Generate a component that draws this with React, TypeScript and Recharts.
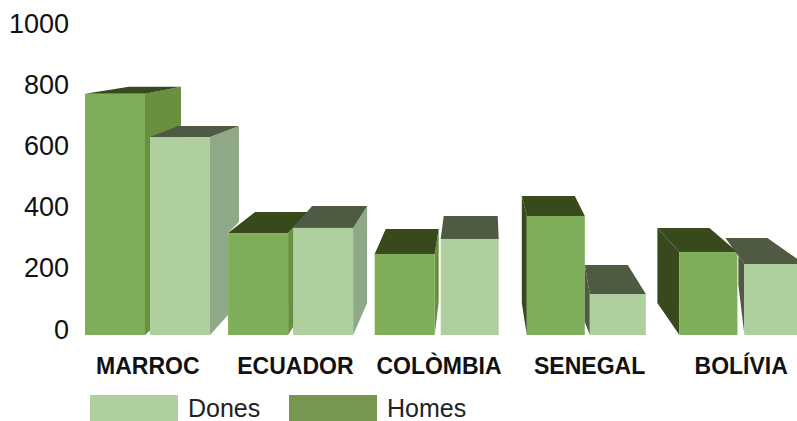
import { Bar, BarChart, Legend, XAxis, YAxis } from "recharts";

const countries = ["MARROC", "ECUADOR", "COLÒMBIA", "SENEGAL", "BOLÍVIA"];
const homes = [788, 333, 265, 389, 271];
const dones = [647, 350, 314, 134, 232];
const yTicks = [0, 200, 400, 600, 800, 1000];

const chartData = countries.map((country, i) => ({
  country,
  homes: homes[i],
  dones: dones[i],
}));

// the fake 3D perspective of each box: shift/resize of the front and where the back edges land
type Box = {
  shift: number;
  grow: number;
  backL: number;
  backR: number;
  rise: number;
  baseRise: number;
  sideDx?: number;
  notch?: number[][]; // side outline where the next box stands in front of it, relative to the front's bottom right
};

const homesBoxes: Box[] = [
  { shift: 0, grow: 0, backL: 44, backR: 36, rise: -7, baseRise: -32 },
  { shift: -4.5, grow: 0, backL: 27, backR: 20, rise: -21, baseRise: -32 },
  { shift: -5.5, grow: 0, backL: 11, backR: 4, rise: -25, baseRise: -33 },
  { shift: -1, grow: -2, backL: -5, backR: -10, rise: -20, baseRise: -32 },
  { shift: 4, grow: -2, backL: -22, backR: -28, rise: -24, baseRise: -32 },
];
const donesBoxes: Box[] = [
  { shift: 0, grow: 0, backL: 28, backR: 29, rise: -11, baseRise: -32, notch: [[29, -113], [18, -102], [18, -20]] },
  { shift: -4.5, grow: 0, backL: 19, backR: 14, rise: -22, baseRise: -32 },
  { shift: -4.5, grow: -2, backL: 3, backR: -1, rise: -23, baseRise: -32 },
  { shift: -3, grow: -4, backL: -5, backR: -18, rise: -29, baseRise: -13 },
  { shift: 4, grow: 0, backL: -19, backR: -37, rise: -26, baseRise: -50, sideDx: -6 },
];
const labelShift = [0, 0, -4, -1, 3];

const homesColors = { front: "#7fae5a", top: "#38491c", right: "#68903f", left: "#38491c" };
const donesColors = { front: "#b0cf9e", top: "#4e5b42", right: "#8ea888", left: "#4e5b42" };

const pts = (list: number[][]) => list.map((p) => p.join(",")).join(" ");

function boxShape(boxes: Box[], colors: typeof homesColors) {
  return function BoxShape(props: any) {
    const { x, y, width, height, index } = props;
    const b = boxes[index];
    const left = x + b.shift;
    const right = left + width + b.grow;
    const base = y + height;
    let side: number[][] | null = null;
    let sideFill = colors.right;
    if (b.backR > 0) {
      side = b.notch
        ? [
            [right, y],
            [right + b.backR, y + b.rise],
            ...b.notch.map(([dx, dy]) => [right + dx, base + dy]),
            [right, base],
          ]
        : [
            [right, y],
            [right + b.backR, y + b.rise],
            [right + b.backR, base + b.baseRise],
            [right, base],
          ];
    } else if (b.backL < 0) {
      const dx = b.sideDx ?? b.backL;
      const t = dx / b.backL;
      side = [
        [left, y],
        [left + dx, y + b.rise * t],
        [left + dx, base + b.baseRise],
        [left, base],
      ];
      sideFill = colors.left;
    }
    return (
      <g>
        {side && <polygon points={pts(side)} fill={sideFill} />}
        <polygon
          points={pts([
            [left, y],
            [right, y],
            [right + b.backR, y + b.rise],
            [left + b.backL, y + b.rise],
          ])}
          fill={colors.top}
        />
        <rect x={left} y={y} width={right - left} height={height} fill={colors.front} />
      </g>
    );
  };
}

function CountryTick(props: any) {
  const { x, y, payload, index } = props;
  return (
    <text
      x={x + labelShift[index]}
      y={y + 1}
      textAnchor="middle"
      fontFamily="Liberation Sans"
      fontWeight="bold"
      fontSize={23}
      fill="#111"
    >
      {payload.value}
    </text>
  );
}

function BottomLegend() {
  const items = [
    { name: "Dones", color: "#b0cf9e", left: 90 },
    { name: "Homes", color: "#77964f", left: 289 },
  ];
  return (
    <div style={{ position: "relative", height: 26, fontFamily: "Liberation Sans", fontSize: 25, color: "#222" }}>
      {items.map((it) => (
        <div key={it.name}>
          <div style={{ position: "absolute", left: it.left, top: 0, width: 88, height: 26, background: it.color }} />
          <span style={{ position: "absolute", left: it.left + 98, top: 0, lineHeight: "26px" }}>{it.name}</span>
        </div>
      ))}
    </div>
  );
}

export default function App() {
  return (
    <div style={{ position: "absolute", left: 0, top: 0, width: 797, height: 421, overflow: "hidden", background: "#fff" }}>
      <BarChart
        width={797}
        height={421}
        data={chartData}
        margin={{ top: 29, right: -15, left: 0, bottom: 20 }}
        barSize={60}
        barGap={5}
        style={{ overflow: "hidden" }}
      >
        <XAxis
          dataKey="country"
          axisLine={false}
          tickLine={false}
          height={40}
          tickSize={0}
          tickMargin={38}
          interval={0}
          tick={<CountryTick />}
        />
        <YAxis
          domain={[0, 1000]}
          ticks={yTicks}
          width={74}
          axisLine={false}
          tickLine={false}
          tickSize={0}
          tickMargin={5}
          tick={{ fontFamily: "Liberation Sans", fontSize: 27, fill: "#111", dy: -6 }}
        />
        <Legend
          content={<BottomLegend />}
          wrapperStyle={{ top: 395, left: 0, bottom: "auto", width: 797 }}
        />
        <Bar dataKey="homes" name="Homes" fill="#7fae5a" shape={boxShape(homesBoxes, homesColors)} isAnimationActive={false} />
        <Bar dataKey="dones" name="Dones" fill="#b0cf9e" shape={boxShape(donesBoxes, donesColors)} isAnimationActive={false} />
      </BarChart>
    </div>
  );
}
